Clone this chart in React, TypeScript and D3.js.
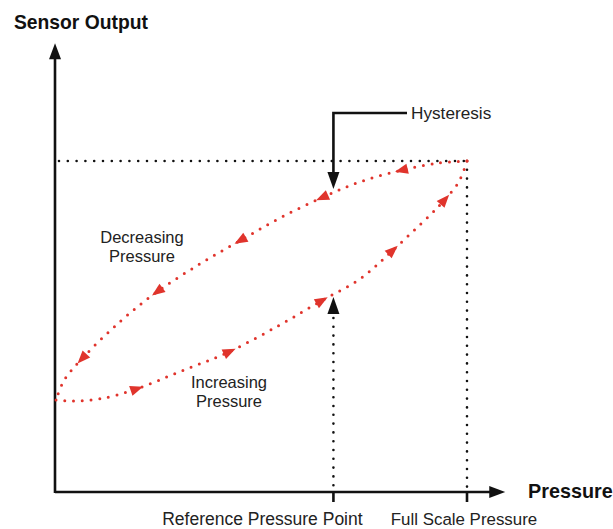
import React, { useEffect, useRef } from "react";
import * as d3 from "d3";

// Qualitative hysteresis loop (pressure % of full scale vs output % of full scale)
const decreasingPressure = [100, 93, 84, 74, 65, 54.5, 45, 35, 24.5, 15.5, 6.5, 2, 0];
const decreasingOutput = [100, 99.4, 97.2, 93.7, 89.1, 82.8, 76.1, 68.9, 60.4, 51.4, 40.5, 33.8, 27.8];
const increasingPressure = [0, 4, 10.5, 19.5, 30, 42, 54.5, 64.5, 74, 82, 91, 94.5, 98, 100];
const increasingOutput = [27.8, 27.5, 28.1, 31.1, 36.3, 42.3, 50.5, 57.7, 64.4, 73.1, 83.7, 88.2, 93.7, 100];
const decreasingArrowsAt = [84, 64.7, 44.8, 24.6, 6.3];
const increasingArrowsAt = [19.7, 42.3, 64.7, 82, 94.6];
const referencePressure = 67.5;
const fullScalePressure = 100;
const fullScaleOutput = 100;
const xTickLabels = ["Reference Pressure Point", "Full Scale Pressure"];

const W = 613;
const H = 529;
const RED = "#e0342c";
const INK = "#111";

export default function App() {
  const ref = useRef<SVGSVGElement | null>(null);

  useEffect(() => {
    const svg = d3.select(ref.current);
    svg.selectAll("*").remove();
    const x = d3.scaleLinear().domain([0, 100]).range([56, 467]);
    const y = d3.scaleLinear().domain([0, 100]).range([492, 161]);
    const x0 = x(0), y0 = y(0);
    const xEnd = x(109.3);
    const yEnd = y(135.6);

    // axes
    svg.append("line").attr("x1", x0 - 1).attr("x2", xEnd - 14).attr("y1", y0).attr("y2", y0)
      .attr("stroke", INK).attr("stroke-width", 2.6);
    svg.append("path").attr("d", `M${xEnd},${y0} L${xEnd - 16},${y0 - 6} L${xEnd - 16},${y0 + 6} Z`).attr("fill", INK);
    svg.append("line").attr("x1", x0 - 1).attr("x2", x0 - 1).attr("y1", y0 + 1).attr("y2", yEnd + 14)
      .attr("stroke", INK).attr("stroke-width", 2.6);
    svg.append("path").attr("d", `M${x0 - 1},${yEnd} L${x0 - 7},${yEnd + 16} L${x0 + 5},${yEnd + 16} Z`).attr("fill", INK);

    // ticks
    [referencePressure, fullScalePressure].forEach((p, i) => {
      svg.append("line").attr("x1", x(p)).attr("x2", x(p)).attr("y1", y0).attr("y2", y0 + 10)
        .attr("stroke", INK).attr("stroke-width", 2.6);
      svg.append("text").attr("x", x(p) + (i === 0 ? -71 : -3)).attr("y", 525)
        .attr("text-anchor", "middle").attr("font-family", "Liberation Sans, Arial, sans-serif")
        .attr("font-size", i === 0 ? 17.5 : 16.9).attr("fill", "#222").text(xTickLabels[i]);
    });

    // black dotted guides
    const dotted = (x1: number, y1: number, x2: number, y2: number) =>
      svg.append("line").attr("x1", x1).attr("y1", y1).attr("x2", x2).attr("y2", y2)
        .attr("stroke", INK).attr("stroke-width", 2.6).attr("stroke-linecap", "round")
        .attr("stroke-dasharray", "0 8.8");
    dotted(x(0) + 3, y(fullScaleOutput), x(fullScalePressure), y(fullScaleOutput));
    dotted(x(fullScalePressure), y(fullScaleOutput), x(fullScalePressure), y0 - 4);
    dotted(x(referencePressure), 318, x(referencePressure), y0 - 4);

    // hysteresis curves
    const line = d3.line<[number, number]>().x(d => x(d[0])).y(d => y(d[1])).curve(d3.curveCatmullRom.alpha(0.5));
    const curves = [
      { p: decreasingPressure, o: decreasingOutput, arrows: decreasingArrowsAt },
      { p: increasingPressure, o: increasingOutput, arrows: increasingArrowsAt },
    ];
    curves.forEach(c => {
      const pts = c.p.map((v, i) => [v, c.o[i]] as [number, number]);
      const path = svg.append("path").attr("d", line(pts) as string).attr("fill", "none")
        .attr("stroke", RED).attr("stroke-width", 3).attr("stroke-linecap", "round")
        .attr("stroke-dasharray", "0 8.8");
      const node = path.node() as SVGPathElement;
      const L = node.getTotalLength();
      c.arrows.forEach(ap => {
        const tx = x(ap);
        let best = 0, bd = Infinity;
        for (let s = 0; s <= L; s += 0.5) {
          const pt = node.getPointAtLength(s);
          const d = Math.abs(pt.x - tx);
          if (d < bd) { bd = d; best = s; }
        }
        const a = node.getPointAtLength(Math.max(0, best - 2));
        const b = node.getPointAtLength(Math.min(L, best + 2));
        const ang = (Math.atan2(b.y - a.y, b.x - a.x) * 180) / Math.PI;
        const c0 = node.getPointAtLength(best);
        svg.append("path").attr("d", "M6.5,0 L-6.5,-5.2 L-6.5,5.2 Z").attr("fill", RED)
          .attr("transform", `translate(${c0.x},${c0.y}) rotate(${ang})`);
      });
    });

    // Hysteresis callout arrow (top)
    const rx = x(referencePressure);
    svg.append("path").attr("d", `M407,113 L${rx},113 L${rx},174`).attr("fill", "none")
      .attr("stroke", INK).attr("stroke-width", 2.6);
    svg.append("path").attr("d", `M${rx},189 L${rx - 6},172 L${rx + 6},172 Z`).attr("fill", INK);
    // upward arrow at reference point
    svg.append("path").attr("d", `M${rx},297 L${rx - 6},314 L${rx + 6},314 Z`).attr("fill", INK);

    const font = "Liberation Sans, Arial, sans-serif";
    const txt = (t: string, tx: number, ty: number, size: number, bold = false, anchor = "start") =>
      svg.append("text").attr("x", tx).attr("y", ty).attr("font-family", font).attr("font-size", size)
        .attr("font-weight", bold ? "bold" : "normal").attr("fill", bold ? INK : "#222")
        .attr("text-anchor", anchor).text(t);
    txt("Sensor Output", 14, 29, 19.3, true);
    txt("Pressure", 528, 498, 19.8, true);
    txt("Hysteresis", 411, 119, 17.2);
    txt("Decreasing", 142, 243, 16.5, false, "middle");
    txt("Pressure", 142, 262, 16.5, false, "middle");
    txt("Increasing", 229, 388, 16.5, false, "middle");
    txt("Pressure", 229, 407, 16.5, false, "middle");
  }, []);

  return (
    <svg ref={ref} width={W} height={H} style={{ position: "absolute", left: 0, top: 0, background: "#fff" }} />
  );
}
